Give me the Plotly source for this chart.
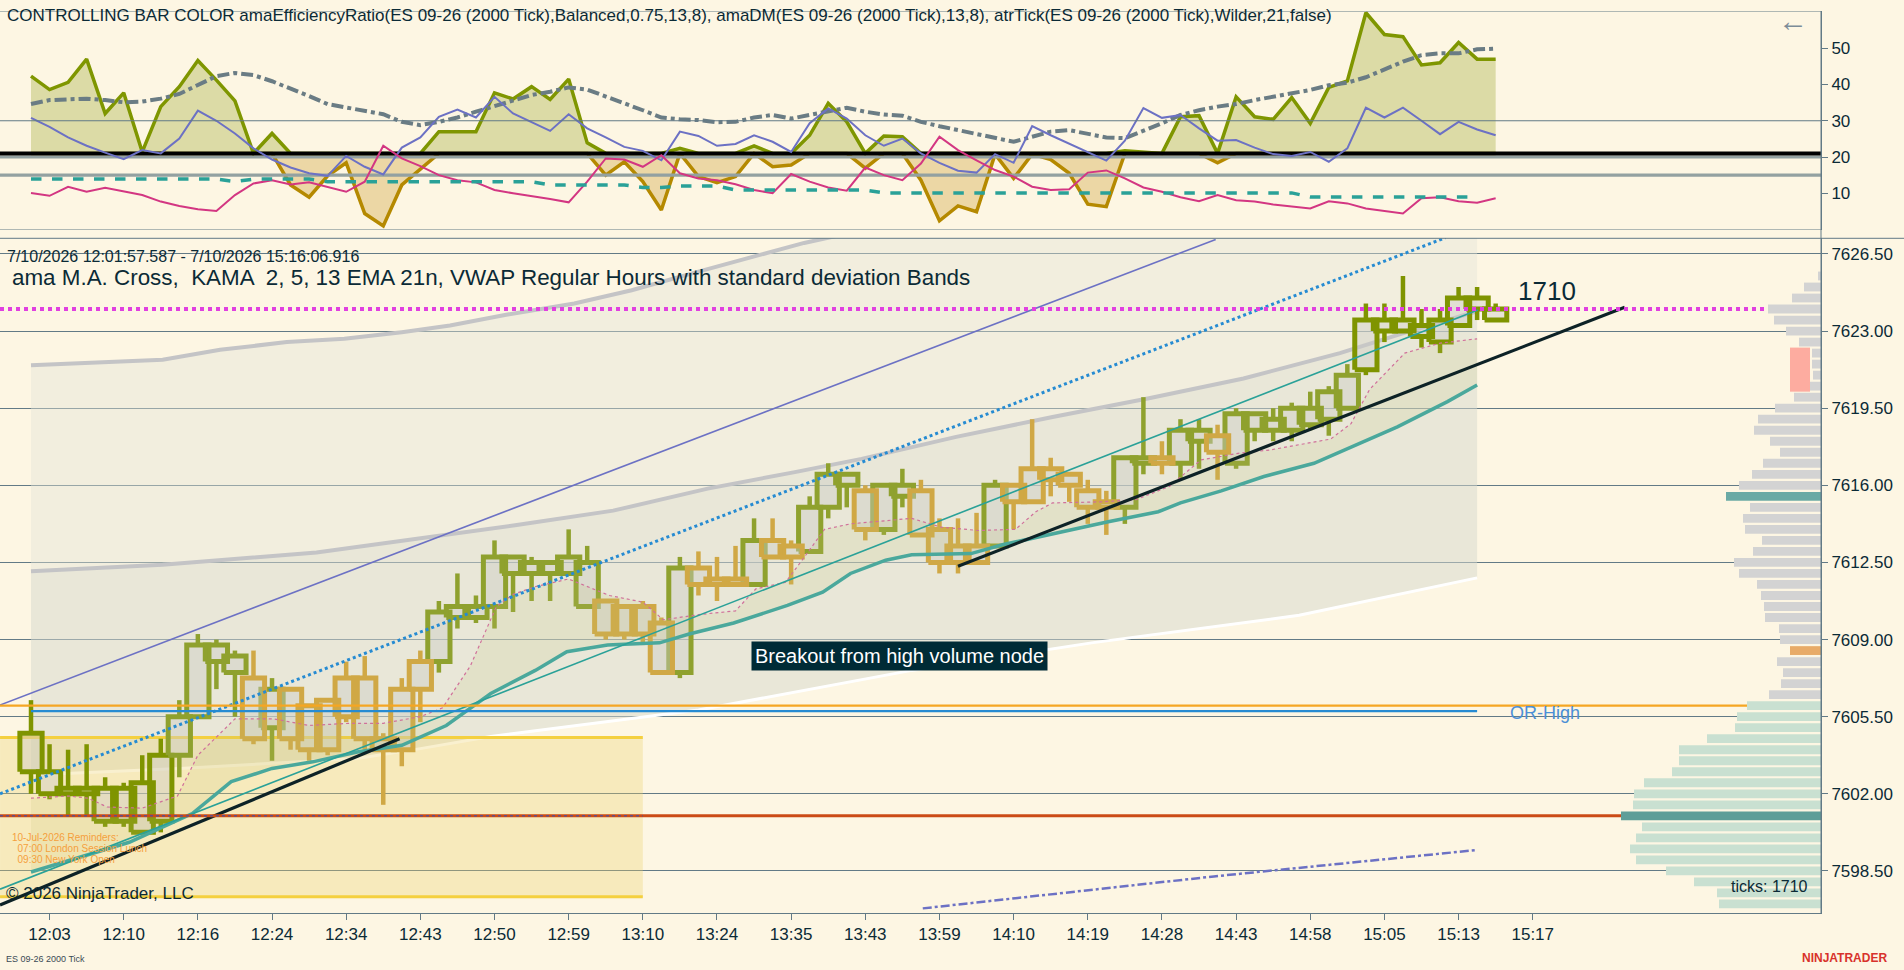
import plotly.graph_objects as go

# ---------------- price bars (ES 09-26, 2000 tick) ----------------
bar_idx = list(range(80))
opens = [7603.0, 7602.0, 7602.0, 7602.0, 7600.75, 7600.75, 7600.25, 7600.75, 7603.75, 7605.5,
         7608.0, 7607.5, 7607.25, 7605.0, 7606.75, 7606.0, 7606.25, 7607.25, 7607.25, 7604.5,
         7606.75, 7608.0, 7608.0, 7610.0, 7610.0, 7610.5, 7612.0, 7612.0, 7612.0, 7612.0,
         7610.5, 7610.75, 7610.5, 7610.5, 7609.75, 7607.5, 7612.25, 7611.75, 7611.75, 7611.5,
         7613.5, 7613.25, 7613.0, 7615.0, 7616.0, 7615.75, 7614.0, 7615.5, 7615.75, 7614.0,
         7613.25, 7613.25, 7613.25, 7616.0, 7616.75, 7616.75, 7616.5, 7615.75, 7615.25, 7615.0,
         7617.0, 7617.25, 7617.0, 7618.0, 7618.25, 7617.0, 7618.5, 7618.5, 7618.5, 7618.75,
         7619.0, 7619.5, 7621.25, 7623.0, 7623.0, 7622.75, 7622.5, 7623.25, 7624.0, 7623.5]
highs = [7606.25, 7604.25, 7604.0, 7604.25, 7602.75, 7602.5, 7603.75, 7604.5, 7606.25, 7609.25,
         7609.0, 7608.5, 7608.5, 7607.25, 7606.75, 7606.0, 7606.25, 7608.0, 7608.25, 7604.75,
         7607.25, 7608.5, 7610.75, 7612.0, 7611.0, 7613.5, 7612.75, 7612.75, 7612.5, 7614.0,
         7613.25, 7610.75, 7610.5, 7610.75, 7610.0, 7612.75, 7613.0, 7612.75, 7613.25, 7614.5,
         7614.5, 7613.5, 7615.5, 7617.0, 7616.5, 7616.0, 7616.0, 7616.75, 7616.25, 7614.5,
         7614.5, 7614.75, 7616.25, 7616.0, 7619.0, 7617.25, 7616.5, 7616.25, 7615.75, 7617.25,
         7620.0, 7618.0, 7619.0, 7619.0, 7618.75, 7619.5, 7619.25, 7619.5, 7619.75, 7620.25,
         7620.5, 7621.5, 7624.25, 7624.25, 7625.5, 7624.0, 7624.0, 7625.0, 7625.0, 7624.25]
lows = [7602.0, 7601.75, 7601.0, 7601.0, 7600.5, 7600.5, 7600.25, 7600.25, 7602.75, 7605.5,
        7606.75, 7605.5, 7604.25, 7603.5, 7604.0, 7603.5, 7603.75, 7605.25, 7604.0, 7601.5,
        7603.25, 7605.25, 7607.5, 7609.5, 7609.75, 7609.5, 7610.25, 7610.75, 7610.75, 7612.0,
        7610.5, 7609.0, 7609.0, 7608.75, 7607.5, 7607.25, 7611.0, 7610.75, 7611.5, 7611.5,
        7612.75, 7611.5, 7613.0, 7614.5, 7615.0, 7613.5, 7613.75, 7615.0, 7613.75, 7612.0,
        7612.0, 7612.5, 7613.25, 7614.0, 7615.25, 7615.5, 7615.25, 7614.25, 7613.75, 7614.25,
        7616.5, 7616.5, 7616.25, 7616.75, 7616.25, 7616.75, 7618.0, 7618.0, 7618.0, 7618.5,
        7618.25, 7619.5, 7621.0, 7622.5, 7623.0, 7622.25, 7622.0, 7623.25, 7623.5, 7623.5]
closes = [7604.75, 7603.0, 7602.25, 7602.25, 7602.25, 7602.25, 7602.5, 7603.75, 7605.5, 7608.75,
          7608.75, 7608.25, 7604.5, 7606.75, 7604.5, 7604.0, 7604.0, 7605.5, 7604.5, 7604.0,
          7604.0, 7606.75, 7610.25, 7610.5, 7610.5, 7612.75, 7612.75, 7612.5, 7612.5, 7612.75,
          7612.5, 7609.25, 7609.25, 7609.25, 7607.5, 7612.25, 7611.5, 7611.5, 7611.5, 7613.5,
          7612.75, 7612.75, 7615.0, 7616.5, 7616.5, 7614.0, 7616.0, 7616.0, 7613.75, 7612.5,
          7612.5, 7612.5, 7616.0, 7615.25, 7615.25, 7616.25, 7616.0, 7615.0, 7615.0, 7617.25,
          7617.25, 7617.0, 7618.5, 7618.5, 7617.5, 7619.25, 7619.25, 7619.0, 7619.5, 7619.5,
          7620.25, 7621.0, 7623.5, 7623.5, 7623.5, 7623.25, 7623.5, 7624.5, 7624.5, 7624.0]
# controlling bar colour: D = strong up, O = up, G = efficiency ratio below threshold
bar_tone = list("DDDDDDDD" "OOOO" "G" "O" "GGGGGGGG" "OOOOOOOOO" "GGGG" "O" "GGG" "O" "GG"
                "OOO" "G" "OO" "GGGG" "O" "GGGGGG" "OO" "G" "OO" "G" "OOOOOOO" "DDDDDDDD")

tick_pos = [1, 5, 9, 13, 17, 21, 25, 29, 33, 37, 41, 45, 49, 53, 57, 61, 65, 69, 73, 77, 81]
tick_labels = ["12:03", "12:10", "12:16", "12:24", "12:34", "12:43", "12:50", "12:59", "13:10",
               "13:24", "13:35", "13:43", "13:59", "14:10", "14:19", "14:28", "14:43", "14:58",
               "15:05", "15:13", "15:17"]
price_ticks = [7598.5, 7602.0, 7605.5, 7609.0, 7612.5, 7616.0, 7619.5, 7623.0, 7626.5]

# ---------------- VWAP bands (read at sample bars) ----------------
band_up2_x = [0, 7.1, 10.2, 13.8, 16.9, 20, 22.6, 25.7, 29.3, 32.4, 36, 39.6, 41.7, 45, 55, 65, 78]
band_up2_y = [7621.45, 7621.7, 7622.15, 7622.5, 7622.65, 7622.95, 7623.25, 7623.75, 7624.25,
              7624.85, 7625.7, 7626.5, 7627.0, 7627.6, 7629.5, 7631.3, 7633.5]
band_up1_x = [0, 7.1, 15.4, 21.6, 26.2, 31.4, 36.5, 41.2, 44.8, 49.9, 55.1, 60.3, 65.4, 70.6, 74.2, 78]
band_up1_y = [7612.1, 7612.4, 7612.95, 7613.65, 7614.2, 7614.85, 7615.85, 7616.6, 7617.2,
              7618.2, 7619.1, 7619.95, 7620.85, 7622.0, 7622.95, 7623.9]
band_dn1_x = [0, 8, 17.6, 21, 24.8, 36, 47.5, 57.2, 68.4, 78]
band_dn1_y = [7602.85, 7603.15, 7603.6, 7604.05, 7604.6, 7605.8, 7607.6, 7608.85, 7610.1, 7611.8]
band_dn2_x = [48.1, 63.8, 78]
band_dn2_y = [7596.8, 7598.25, 7599.45]

# ---------------- moving averages (read at sample bars) ----------------
ema_x = [0, 5.3, 8.7, 10.8, 13, 15.2, 17.6, 20, 22.4, 24.8, 27.2, 28.9, 31.1, 33.9, 35.5, 37.9,
         40.8, 42.7, 44.2, 46.1, 47.5, 50.7, 52.4, 54.8, 58.1, 60.8, 62, 64.2, 66.5, 69.2, 71.3,
         73.7, 76.4, 78]
ema_y = [7598.45, 7599.8, 7601.1, 7602.55, 7603.15, 7603.45, 7603.9, 7604.2, 7605.1, 7606.55,
         7607.6, 7608.45, 7608.75, 7608.85, 7609.25, 7609.75, 7610.55, 7611.15, 7612.0, 7612.6,
         7612.85, 7612.9, 7613.3, 7613.75, 7614.35, 7614.8, 7615.2, 7615.75, 7616.4, 7617.0,
         7617.75, 7618.65, 7619.8, 7620.55]
kama_x = [0, 2, 3.1, 4.1, 6, 7.9, 9, 11, 13.1, 15, 17.2, 19, 21, 22.2, 23.7, 25.1, 26, 27.2, 29,
          31.2, 33, 34.1, 36.2, 38, 39.1, 40.7, 41.5, 42.8, 44.2, 47.5, 49.1, 51.1, 53.1, 54.2,
          55.1, 57.8, 59.6, 61.4, 63.1, 65.1, 66.8, 70.1, 71.2, 72.2, 74.1, 76, 78]
kama_y = [7601.8, 7601.9, 7601.8, 7601.4, 7601.35, 7601.9, 7603.75, 7605.4, 7605.4, 7605.1,
          7605.2, 7605.2, 7605.5, 7605.9, 7607.8, 7610.5, 7611.05, 7611.4, 7611.75, 7611.0,
          7610.7, 7609.9, 7610.15, 7610.3, 7611.3, 7611.6, 7612.5, 7614.0, 7614.25, 7614.5,
          7614.1, 7613.95, 7614.0, 7614.8, 7615.2, 7615.25, 7615.35, 7615.95, 7617.15, 7617.45,
          7617.6, 7618.1, 7618.8, 7620.35, 7622.0, 7622.45, 7622.65]

# ---------------- drawn objects ----------------
channel_upper = ([-1.67, 63.9], [7606.03, 7627.16])
channel_mid = ([-1.67, 76.3], [7602.0, 7627.24])
channel_lower = ([-1.67, 78.04], [7597.67, 7623.96])
trend_1 = ([-1.67, 19.88], [7596.95, 7604.5])
trend_2 = ([50.0, 85.96], [7612.33, 7624.08])
reminder_box = ([-1.67, 33.0], [7597.33, 7604.56])
or_high = 7605.75
or_high_span = [0, 78]
prior_level = 7606.0
red_level = 7601.0
last_price = 7624.0

# ---------------- volume profile ----------------
vp_prices = [7625.5, 7625.0, 7624.5, 7624.0, 7623.5, 7623.0, 7622.5, 7622.0, 7621.5, 7621.0,
             7620.5, 7620.0, 7619.5, 7619.0, 7618.5, 7618.0, 7617.5, 7617.0, 7616.5, 7616.0,
             7615.5, 7615.0, 7614.5, 7614.0, 7613.5, 7613.0, 7612.5, 7612.0, 7611.5, 7611.0,
             7610.5, 7610.0, 7609.5, 7609.0, 7608.5, 7608.0, 7607.5, 7607.0, 7606.5, 7606.0,
             7605.5, 7605.0, 7604.5, 7604.0, 7603.5, 7603.0, 7602.5, 7602.0, 7601.5, 7601.0,
             7600.5, 7600.0, 7599.5, 7599.0, 7598.5, 7598.0, 7597.5, 7597.0]
vp_sizes = [3, 17, 29, 53, 47, 35, 22, 9, 9, 8,
            11, 27, 46, 63, 67, 51, 41, 58, 69, 82,
            95, 71, 78, 76, 59, 68, 87, 82, 64, 60,
            57, 56, 42, 41, 31, 44, 38, 40, 52, 74,
            84, 86, 114, 142, 142, 149, 177, 187, 188, 200,
            179, 185, 191, 185, 155, 127, 104, 102]
vp_upper_poc = 7615.5
vp_lower_poc = 7601.0
vp_marker = 7608.5
vp_split = 7606.0
vp_pink_zone = ([11, 31], [7620.25, 7622.25])

# ---------------- indicator panel ----------------
er_vals = [42.3, 38.6, 40.6, 47.0, 32.0, 37.7, 21.4, 33.9, 39.4, 46.6, 41.2, 35.5, 21.0, 26.5,
           12.3, 8.9, 14.8, 18.4, 4.4, 1.0, 12.3, 16.8, 27.0, 27.1, 27.0, 37.7, 36.0, 39.4, 35.9,
           41.5, 23.9, 15.0, 18.7, 13.2, 5.4, 22.4, 14.6, 12.9, 14.6, 23.1, 17.3, 17.8, 26.0, 34.8,
           29.7, 16.9, 25.8, 25.6, 13.6, 2.4, 6.5, 4.9, 20.8, 14.1, 20.8, 19.3, 15.5, 7.0, 6.3,
           21.7, 21.3, 20.8, 31.1, 31.4, 18.4, 36.6, 31.1, 30.4, 36.4, 29.3, 39.2, 41.0, 59.8,
           53.8, 53.2, 45.4, 46.0, 51.6, 47.0, 47.0]
dm_fast = [30.8, 28.3, 25.4, 23.1, 21.2, 19.4, 21.9, 21.0, 25.1, 32.8, 30.0, 26.5, 22.4, 19.3,
           17.1, 15.5, 14.8, 20.3, 17.3, 15.2, 22.6, 25.4, 31.1, 33.1, 30.9, 36.6, 32.0, 29.7,
           27.2, 31.8, 27.9, 25.4, 22.8, 21.7, 19.1, 27.0, 25.8, 23.1, 23.6, 26.0, 24.2, 21.4,
           29.3, 33.4, 30.6, 26.0, 23.1, 25.1, 21.0, 18.4, 16.2, 15.7, 20.8, 18.4, 28.5, 26.0,
           23.6, 21.2, 19.0, 24.5, 33.5, 30.8, 31.6, 27.9, 24.5, 24.7, 22.6, 20.8, 20.3, 21.4,
           18.7, 22.4, 33.6, 30.9, 33.6, 30.0, 26.3, 29.7, 27.6, 26.0]
dm_slow = [34.6, 35.7, 35.9, 36.1, 35.7, 35.1, 35.3, 36.1, 37.4, 39.8, 42.3, 43.2, 42.6, 40.9,
           38.9, 36.8, 34.6, 33.7, 32.9, 31.8, 29.7, 28.8, 29.7, 30.9, 32.5, 34.0, 35.7, 37.1,
           38.0, 39.2, 38.6, 36.6, 34.8, 32.9, 30.9, 30.4, 30.2, 29.6, 29.7, 30.9, 31.6, 30.6,
           31.6, 32.5, 33.6, 32.5, 31.7, 31.4, 29.7, 28.5, 27.4, 26.5, 25.4, 24.2, 25.6, 27.0,
           27.4, 26.5, 25.4, 25.2, 27.2, 29.3, 31.6, 32.9, 33.9, 34.6, 35.7, 36.6, 37.5, 38.5,
           39.8, 40.5, 42.0, 44.2, 46.3, 48.1, 48.6, 48.6, 49.7, 49.9]
atr_vals = [10.1, 9.3, 11.8, 10.4, 11.5, 10.4, 9.5, 7.7, 6.5, 5.6, 5.1, 9.5, 12.7, 13.6, 12.4,
            13.0, 11.6, 10.4, 13.2, 23.1, 19.6, 17.5, 15.0, 13.6, 13.0, 10.9, 10.0, 9.3, 8.4, 7.5,
            13.2, 19.6, 19.3, 17.3, 20.5, 15.5, 14.1, 13.6, 12.5, 10.9, 10.0, 15.3, 13.2, 11.6,
            10.7, 17.1, 15.0, 13.6, 18.2, 25.6, 21.9, 19.1, 16.4, 14.6, 11.8, 10.9, 11.1, 15.7,
            16.3, 14.1, 11.6, 10.4, 8.9, 7.8, 9.5, 8.1, 7.7, 6.9, 6.4, 5.8, 7.8, 7.2, 5.8, 5.2,
            4.4, 8.6, 8.9, 7.8, 7.4, 8.6]
atr_avg = [13.9] * 11 + [13.2] + [13.9] * 4 + [13.2] * 12 + [12.3] * 5 + [11.6] * 2 + \
          [12.0] * 3 + [10.9] * 8 + [10.1] * 23 + [9.0] * 10
er_threshold = 21
er_levels = [20, 15]

# ---------------- colours ----------------
BG = "#fdf6e3"
GRID = "#627a86"
TXT = "#0b2a36"
TONES = {"D": "#7f9400", "O": "#8fa12e", "G": "#d0a845"}
FONT = "Liberation Sans, Arial, sans-serif"

W, H = 1904, 970
ML, MR, MT, MB = 0, 83, 11, 57
PW, PH = W - ML - MR, H - MT - MB
X_RANGE = [-1.672, 96.548]
HALF_BODY = 0.6


def pxx(x):
    return x / PW


def pyy(y):
    return (H - MB - y) / PH


fig = go.Figure()

# VWAP band fills
fig.add_trace(go.Scatter(x=band_up2_x, y=band_up2_y, mode="lines",
                         line=dict(color="#c4c4c6", width=4), hoverinfo="skip"))
fig.add_trace(go.Scatter(x=band_up1_x, y=band_up1_y, mode="lines", fill="tonexty",
                         fillcolor="rgba(226,226,214,0.42)",
                         line=dict(color="#c4c4c6", width=4), hoverinfo="skip"))
fig.add_trace(go.Scatter(x=band_dn1_x, y=band_dn1_y, mode="lines", fill="tonexty",
                         fillcolor="rgba(214,215,205,0.5)",
                         line=dict(color="#ffffff", width=3), hoverinfo="skip"))
fig.add_trace(go.Scatter(x=band_dn2_x, y=band_dn2_y, mode="lines",
                         line=dict(color="#6c71c4", width=2.5, dash="dashdot"), hoverinfo="skip"))

# reminder box
bx, by = reminder_box
fig.add_trace(go.Scatter(x=[bx[0], bx[1], bx[1], bx[0], bx[0]],
                         y=[by[0], by[0], by[1], by[1], by[0]], mode="lines", fill="toself",
                         fillcolor="rgba(238,208,110,0.33)", line=dict(width=0), hoverinfo="skip"))
for yv in by:
    fig.add_trace(go.Scatter(x=bx, y=[yv, yv], mode="lines",
                             line=dict(color="#f4d03f", width=3), hoverinfo="skip"))

# candles (hollow bodies + wicks), one pair of traces per controlling colour
body_lo = [min(o, c) for o, c in zip(opens, closes)]
body_hi = [max(max(o, c), min(o, c) + 0.2) for o, c in zip(opens, closes)]
for tone, col in TONES.items():
    sel = [i for i in bar_idx if bar_tone[i] == tone]
    wx, wy, rx, ry = [], [], [], []
    for i in sel:
        wx += [i, i, None, i, i, None]
        wy += [lows[i], body_lo[i], None, body_hi[i], highs[i], None]
        rx += [i - HALF_BODY, i + HALF_BODY, i + HALF_BODY, i - HALF_BODY, i - HALF_BODY, None]
        ry += [body_lo[i], body_lo[i], body_hi[i], body_hi[i], body_lo[i], None]
    fig.add_trace(go.Scatter(x=wx, y=wy, mode="lines", line=dict(color=col, width=4.5),
                             hoverinfo="skip"))
    fig.add_trace(go.Scatter(x=rx, y=ry, mode="lines", fill="toself",
                             fillcolor="rgba(205,205,198,0.45)",
                             line=dict(color=col, width=5), hoverinfo="skip"))

# MA cross (drawn over the bars)
fig.add_trace(go.Scatter(x=kama_x, y=kama_y, mode="lines",
                         line=dict(color="#d0709a", width=1.2, dash="dot"), hoverinfo="skip"))
fig.add_trace(go.Scatter(x=ema_x, y=ema_y, mode="lines", fill="tonexty",
                         fillcolor="rgba(190,195,120,0.16)",
                         line=dict(color="#4aa89c", width=3.5), hoverinfo="skip"))

# channel lines
fig.add_trace(go.Scatter(x=channel_upper[0], y=channel_upper[1], mode="lines",
                         line=dict(color="#6c71c4", width=1.6), hoverinfo="skip"))
fig.add_trace(go.Scatter(x=channel_mid[0], y=channel_mid[1], mode="lines",
                         line=dict(color="#268bd2", width=3, dash="dot"), hoverinfo="skip"))
fig.add_trace(go.Scatter(x=channel_lower[0], y=channel_lower[1], mode="lines",
                         line=dict(color="#2aa198", width=1.6), hoverinfo="skip"))

# trend lines
for tl in (trend_1, trend_2):
    fig.add_trace(go.Scatter(x=tl[0], y=tl[1], mode="lines",
                             line=dict(color="#0d2226", width=3.2), hoverinfo="skip"))

# volume profile (length measured from the price axis)
vp_col = []
for p in vp_prices:
    if p == vp_upper_poc:
        vp_col.append("#6aaaa5")
    elif p == vp_lower_poc:
        vp_col.append("#5e9e98")
    elif p == vp_marker:
        vp_col.append("#e8ab68")
    elif p <= vp_split:
        vp_col.append("#c9e0d1")
    else:
        vp_col.append("#d3d3d3")
fig.add_trace(go.Bar(x=vp_sizes, y=vp_prices, orientation="h", width=0.4, base=0,
                     xaxis="x3", yaxis="y", marker=dict(color=vp_col, line=dict(width=0)),
                     hoverinfo="skip"))
fig.add_trace(go.Bar(x=[vp_pink_zone[0][1] - vp_pink_zone[0][0]],
                     y=[sum(vp_pink_zone[1]) / 2], base=[vp_pink_zone[0][0]], orientation="h",
                     width=vp_pink_zone[1][1] - vp_pink_zone[1][0], xaxis="x3", yaxis="y",
                     marker=dict(color="#fdaca0", line=dict(width=0)), hoverinfo="skip"))

# price levels
fig.add_trace(go.Scatter(x=X_RANGE, y=[prior_level] * 2, mode="lines",
                         line=dict(color="#f5a623", width=2.2), hoverinfo="skip"))
fig.add_trace(go.Scatter(x=or_high_span, y=[or_high] * 2, mode="lines",
                         line=dict(color="#268bd2", width=2.4), hoverinfo="skip"))
fig.add_trace(go.Scatter(x=X_RANGE, y=[red_level] * 2, mode="lines",
                         line=dict(color="#cb4b16", width=3), hoverinfo="skip"))
fig.add_trace(go.Scatter(x=[X_RANGE[0], bx[1]], y=[red_level] * 2, mode="lines",
                         line=dict(color="#3050c0", width=1, dash="dot"), hoverinfo="skip"))
fig.add_trace(go.Scatter(x=X_RANGE, y=[last_price] * 2, mode="lines",
                         line=dict(color="#e040e0", width=4, dash="dot"), hoverinfo="skip"))

# ---------------- indicator panel traces ----------------
er_hi = [max(v, er_threshold) for v in er_vals]
er_lo = [min(v, er_threshold) for v in er_vals]
base_line = [er_threshold] * len(er_vals)
fig.add_trace(go.Scatter(x=bar_idx, y=base_line, mode="lines", line=dict(width=0),
                         xaxis="x2", yaxis="y2", hoverinfo="skip"))
fig.add_trace(go.Scatter(x=bar_idx, y=er_lo, mode="lines", fill="tonexty",
                         fillcolor="rgba(214,178,88,0.45)", line=dict(color="#b58900", width=3.5),
                         xaxis="x2", yaxis="y2", hoverinfo="skip"))
fig.add_trace(go.Scatter(x=bar_idx, y=base_line, mode="lines", line=dict(width=0),
                         xaxis="x2", yaxis="y2", hoverinfo="skip"))
fig.add_trace(go.Scatter(x=bar_idx, y=er_hi, mode="lines", fill="tonexty",
                         fillcolor="rgba(180,186,92,0.45)", line=dict(color="#7f9600", width=3.5),
                         xaxis="x2", yaxis="y2", hoverinfo="skip"))
for lv in er_levels:
    fig.add_trace(go.Scatter(x=X_RANGE, y=[lv, lv], mode="lines",
                             line=dict(color="#93a1a1", width=3.2), xaxis="x2", yaxis="y2",
                             hoverinfo="skip"))
fig.add_trace(go.Scatter(x=X_RANGE, y=[er_threshold] * 2, mode="lines",
                         line=dict(color="#000000", width=4), xaxis="x2", yaxis="y2",
                         hoverinfo="skip"))
fig.add_trace(go.Scatter(x=bar_idx, y=dm_slow, mode="lines",
                         line=dict(color="#6a7c84", width=4, dash="dashdot"),
                         xaxis="x2", yaxis="y2", hoverinfo="skip"))
fig.add_trace(go.Scatter(x=bar_idx, y=dm_fast, mode="lines",
                         line=dict(color="#6c71c4", width=2), xaxis="x2", yaxis="y2",
                         hoverinfo="skip"))
fig.add_trace(go.Scatter(x=bar_idx, y=atr_vals, mode="lines",
                         line=dict(color="#d33682", width=2), xaxis="x2", yaxis="y2",
                         hoverinfo="skip"))
fig.add_trace(go.Scatter(x=bar_idx[:len(atr_avg)], y=atr_avg, mode="lines",
                         line=dict(color="#2aa198", width=3.5, dash="dash"),
                         xaxis="x2", yaxis="y2", hoverinfo="skip"))

# ---------------- layout ----------------
axis_font = dict(family=FONT, size=17, color=TXT)
Y_MAIN = [7596.59, 7627.21]
Y_TOP = [0, 60.28]
fig.update_layout(
    width=W, height=H, margin=dict(l=ML, r=MR, t=MT, b=MB),
    paper_bgcolor=BG, plot_bgcolor=BG, showlegend=False, barmode="overlay",
    xaxis=dict(domain=[0, 1], anchor="y", range=X_RANGE, tickvals=tick_pos, ticktext=tick_labels,
               ticks="outside", ticklen=6, tickcolor=GRID, showline=True, linecolor=GRID,
               showgrid=False, zeroline=False, tickfont=axis_font, fixedrange=True),
    xaxis2=dict(anchor="y2", matches="x", showticklabels=False, showgrid=False, zeroline=False,
                showline=False, ticks=""),
    xaxis3=dict(overlaying="x", range=[PW, 0], visible=False),
    yaxis=dict(domain=[0, pyy(238.3)], range=Y_MAIN, side="right", tickvals=price_ticks,
               ticktext=["%.2f" % v for v in price_ticks], showgrid=True, gridcolor=GRID,
               gridwidth=1, ticks="outside", ticklen=6, tickcolor=GRID, showline=True,
               linecolor=GRID, zeroline=False, tickfont=axis_font),
    yaxis2=dict(domain=[pyy(229.5), 1], range=Y_TOP, side="right",
                tickvals=[10, 20, 30, 40, 50], showgrid=False, ticks="outside", ticklen=6,
                tickcolor=GRID, showline=True, linecolor=GRID, zeroline=False,
                tickfont=axis_font, anchor="x2"),
)

shapes = []
for yv in [0, 30, Y_TOP[1]]:
    shapes.append(dict(type="line", xref="paper", yref="y2", x0=0, x1=1, y0=yv, y1=yv,
                       line=dict(color=GRID, width=1)))
shapes.append(dict(type="line", xref="paper", yref="paper", x0=0, x1=W / PW,
                   y0=pyy(238.3), y1=pyy(238.3), line=dict(color=GRID, width=1)))
shapes.append(dict(type="line", xref="paper", yref="paper", x0=1, x1=1, y0=0, y1=1,
                   line=dict(color=GRID, width=1)))
fig.update_layout(shapes=shapes)

ann = []


def note(x, y, text, size, color=TXT, xanchor="left", **kw):
    ann.append(dict(xref="paper", yref="paper", x=pxx(x), y=pyy(y), text=text, showarrow=False,
                    xanchor=xanchor, yanchor="middle", font=dict(family=FONT, size=size,
                                                                  color=color), **kw))


note(5, 16, "CONTROLLING BAR COLOR amaEfficiencyRatio(ES 09-26 (2000 Tick),Balanced,0.75,13,8), "
     "amaDM(ES 09-26 (2000 Tick),13,8), atrTick(ES 09-26 (2000 Tick),Wilder,21,false)", 17)
note(1810, 20, "\u2190", 30, color="#7c8c98", xanchor="right")
note(5, 256, "7/10/2026 12:01:57.587 - 7/10/2026 15:16:06.916", 16)
note(10, 277, "ama M.A. Cross,  KAMA  2, 5, 13 EMA 21n, VWAP Regular Hours with standard "
     "deviation Bands", 22.4)
note(1516, 291, "1710", 26)
note(899, 656, "Breakout from high volume node", 20, color="#ffffff", xanchor="center",
     bgcolor="#002b36", borderpad=3)
note(1508, 713, "OR-High", 18, color="#4b8fd6")
note(10, 837, "10-Jul-2026 Reminders:", 10, color="#f5a03c")
note(10, 848, "  07:00 London Session Lunch", 10, color="#f5a03c")
note(10, 859, "  09:30 New York Open", 10, color="#f5a03c")
note(4, 893, "\u00a9 2026 NinjaTrader, LLC", 17)
note(1810, 886, "ticks: 1710", 16, xanchor="right")
note(4, 959, "ES 09-26 2000 Tick", 9, color="#3a4a55")
note(1889, 958, "<b>NINJATRADER</b>", 12, color="#d8322c", xanchor="right")
fig.update_layout(annotations=ann)

fig.write_html("out.html", config={"displayModeBar": False},
               post_script="document.body.style.margin='0px';"
                           "document.body.style.overflow='hidden';")
